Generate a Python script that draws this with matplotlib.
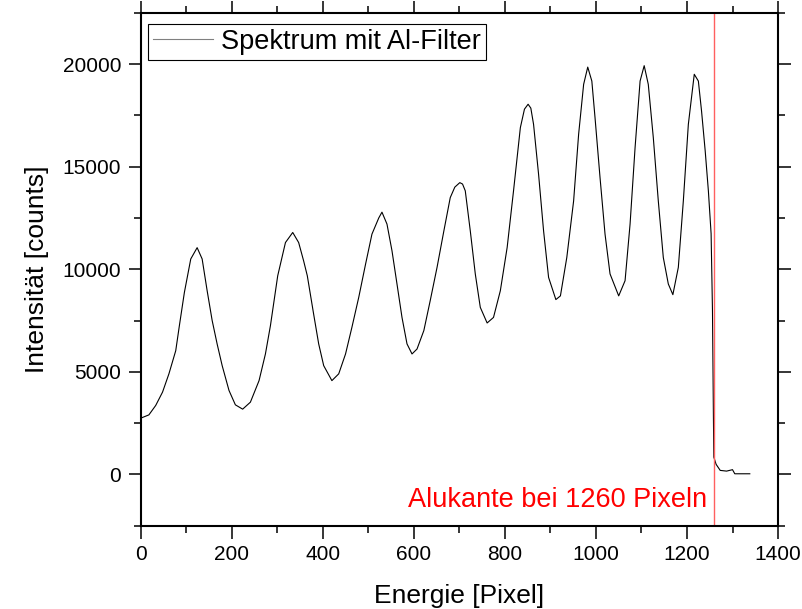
import numpy as np
import matplotlib.pyplot as plt
from matplotlib.ticker import MultipleLocator

#spectrum (pixel, counts)
energie = [0, 18, 33, 48, 62, 77, 85, 96, 110, 124, 135, 146, 157, 168, 179, 194, 208, 224, 241,
           260, 274, 285, 301, 318, 334, 347, 358, 366, 380, 391, 402, 420, 435, 450, 464,
           479, 494, 508, 523, 530, 541, 552, 563, 574, 585, 596, 607, 622, 636, 651, 666, 680,
           690, 701, 707, 713, 724, 735, 746, 761, 775, 790, 805, 819, 834, 843, 851, 857, 863,
           874, 885, 896, 912, 922, 936, 951, 962, 973, 982, 991, 998, 1009, 1020, 1031, 1050,
           1064, 1075, 1086, 1097, 1106, 1115, 1126, 1137, 1148, 1159, 1169, 1181, 1192, 1203,
           1216, 1225, 1232, 1240, 1247, 1253, 1256, 1258, 1259, 1264, 1273, 1287, 1300, 1305,
           1338]
counts = [2740, 2900, 3360, 4010, 4900, 6030, 7250, 8870, 10500, 11050, 10500, 8950, 7500, 6350,
          5300, 4090, 3390, 3180, 3520, 4570, 5870, 7250, 9680, 11300, 11790, 11300, 10400,
          9680, 7800, 6360, 5300, 4570, 4900, 5870, 7170, 8630, 10250, 11710, 12500, 12780, 12200,
          10900, 9280, 7650, 6360, 5870, 6110, 7010, 8470, 10090, 11870, 13490, 14000, 14220,
          14150, 13820, 11870, 9770, 8140, 7380, 7650, 8950, 11060, 13820, 16900, 17800, 18040,
          17850, 17060, 14630, 11870, 9600, 8520, 8700, 10570, 13330, 16580, 19010, 19850, 19170,
          17390, 14470, 11710, 9770, 8700, 9440, 12200, 15930, 19170, 19920, 19010, 16420, 13330,
          10570, 9280, 8760, 10090, 13330, 17060, 19500, 19170, 17710, 15770, 13820, 11730, 7980,
          3000, 840, 490, 195, 160, 230, 30, 30]

kante = 1260
kanteText = 'Alukante bei 1260 Pixeln'

plt.rcParams['font.family'] = ['Liberation Sans', 'DejaVu Sans']

fig = plt.figure(figsize=(8.03, 6.09), dpi=100)
ax = fig.add_axes([0.1752, 0.1368, 0.7937, 0.8423])

ax.plot(energie, counts, color='black', lw=0.8, label='Spektrum mit Al-Filter')
ax.axvline(kante, color='#ff6060', lw=1.0)
ax.text(kante - 16, -1250, kanteText, color='red', fontsize=19.5, ha='right', va='center')

ax.set_xlim(0, 1400)
ax.set_ylim(-2500, 22500)
ax.xaxis.set_major_locator(MultipleLocator(200))
ax.xaxis.set_minor_locator(MultipleLocator(100))
ax.yaxis.set_major_locator(MultipleLocator(5000))
ax.yaxis.set_minor_locator(MultipleLocator(2500))

#origin style ticks on all four sides, pointing out
ax.tick_params(which='both', direction='out', top=True, right=True, width=1.1, labelsize=15, pad=5)
ax.tick_params(which='major', length=9)
ax.tick_params(which='minor', length=5)
for s in ax.spines.values():
    s.set_linewidth(1.5)

ax.set_xlabel('Energie [Pixel]', fontsize=19, labelpad=14)
ax.set_ylabel('Intensität [counts]', fontsize=19, labelpad=10)

leg = ax.legend(loc='upper left', bbox_to_anchor=(0.011, 0.979), borderaxespad=0, fontsize=19.5,
                fancybox=False, framealpha=1, edgecolor='black', borderpad=0.2,
                handlelength=2.2, handletextpad=0.3)
leg.get_frame().set_linewidth(0.8)
leg.get_lines()[0].set_color('#808080')

plt.savefig('out.png', dpi=100)
plt.close()
